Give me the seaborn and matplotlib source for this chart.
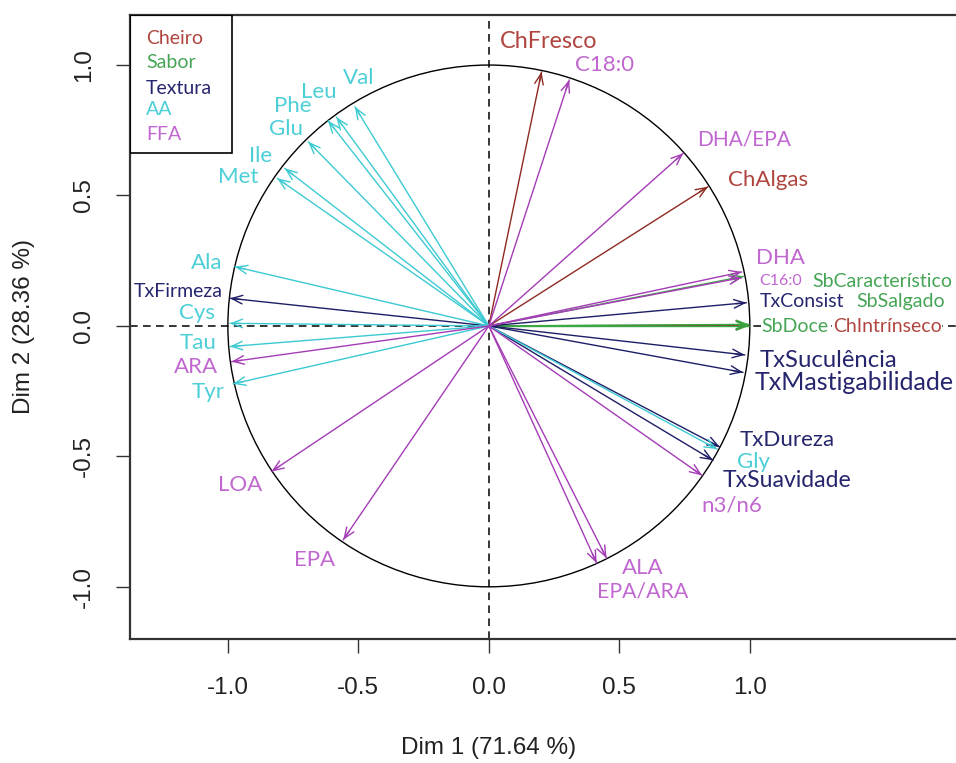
import numpy as np
import pandas as pd
import matplotlib
matplotlib.use("Agg")
import matplotlib.pyplot as plt
import seaborn as sns
from matplotlib.patches import Circle, Rectangle

# ---------------- data ----------------
variables = ["ChFresco", "ChAlgas", "ChIntrínseco",
             "SbCaracterístico", "SbSalgado", "SbDoce",
             "TxFirmeza", "TxConsist", "TxSuculência", "TxMastigabilidade", "TxDureza", "TxSuavidade",
             "Val", "Leu", "Phe", "Glu", "Ile", "Met", "Ala", "Cys", "Tau", "Tyr", "Gly",
             "C18:0", "DHA/EPA", "DHA", "C16:0", "n3/n6", "ALA", "EPA/ARA", "EPA", "LOA", "ARA"]
groups = ["Cheiro"] * 3 + ["Sabor"] * 3 + ["Textura"] * 6 + ["AA"] * 11 + ["FFA"] * 10
dim1 = [0.202, 0.840, 0.995,
        0.975, 0.996, 0.997,
        -0.992, 0.987, 0.981, 0.974, 0.885, 0.859,
        -0.513, -0.584, -0.616, -0.692, -0.782, -0.811, -0.973, -0.992, -0.992, -0.980, 0.874,
        0.308, 0.745, 0.969, 0.969, 0.817, 0.413, 0.451, -0.558, -0.833, -0.986]
dim2 = [0.974, 0.534, 0.003,
        0.190, 0.006, 0.000,
        0.106, 0.089, -0.111, -0.178, -0.464, -0.515,
        0.840, 0.800, 0.787, 0.706, 0.604, 0.566, 0.227, 0.010, -0.079, -0.222, -0.472,
        0.943, 0.662, 0.207, 0.185, -0.573, -0.909, -0.890, -0.820, -0.558, -0.137]

group_names = ["Cheiro", "Sabor", "Textura", "AA", "FFA"]
xlab = "Dim 1 (71.64 %)"
ylab = "Dim 2 (28.36 %)"
xticks = [-1.0, -0.5, 0.0, 0.5, 1.0]
yticks = [-1.0, -0.5, 0.0, 0.5, 1.0]

# ---------------- styles / layout ----------------
arrow_colors = {"Cheiro": "#8e2a22", "Sabor": "#3aa843", "Textura": "#1e1e66",
                "AA": "#3ccad2", "FFA": "#a43cb6"}
text_colors = {"Cheiro": "#b0453f", "Sabor": "#45a555", "Textura": "#26266e",
               "AA": "#4ccfd6", "FFA": "#c067d0"}

L, M, S = 16, 14, 11.5
# label layout: x, y, ha, size, white background
label_layout = {
    "ChFresco": (0.042, 1.089, "left", 16.8, False),
    "ChAlgas": (0.916, 0.560, "left", L, False),
    "ChIntrínseco": (1.318, -0.003, "left", M, True),
    "SbCaracterístico": (1.241, 0.172, "left", M, False),
    "SbSalgado": (1.410, 0.093, "left", M, False),
    "SbDoce": (1.046, -0.003, "left", M, True),
    "TxFirmeza": (-1.019, 0.131, "right", M, False),
    "TxConsist": (1.038, 0.093, "left", M, False),
    "TxSuculência": (1.038, -0.133, "left", 17.2, False),
    "TxMastigabilidade": (1.019, -0.215, "left", 18, False),
    "TxDureza": (0.962, -0.437, "left", L, False),
    "TxSuavidade": (0.897, -0.593, "left", 16.6, False),
    "Val": (-0.440, 0.950, "right", L, False),
    "Leu": (-0.582, 0.897, "right", L, False),
    "Phe": (-0.678, 0.843, "right", L, False),
    "Glu": (-0.713, 0.755, "right", L, False),
    "Ile": (-0.831, 0.651, "right", L, False),
    "Met": (-0.885, 0.571, "right", L, False),
    "Ala": (-1.019, 0.241, "right", L, False),
    "Cys": (-1.050, 0.050, "right", L, False),
    "Tau": (-1.042, -0.065, "right", L, False),
    "Tyr": (-1.011, -0.252, "right", L, False),
    "Gly": (0.950, -0.520, "left", L, False),
    "C18:0": (0.330, 1.000, "left", L, False),
    "DHA/EPA": (0.797, 0.713, "left", 15, False),
    "DHA": (1.023, 0.261, "left", L, False),
    "C16:0": (1.038, 0.172, "left", S, False),
    "n3/n6": (0.816, -0.690, "left", L, False),
    "ALA": (0.510, -0.927, "left", L, False),
    "EPA/ARA": (0.414, -1.018, "left", 15.3, False),
    "EPA": (-0.590, -0.897, "right", L, False),
    "LOA": (-0.870, -0.609, "right", L, False),
    "ARA": (-1.038, -0.156, "right", L, False),
}

sns.set_theme(style="white")
label_font = ["Lato", "DejaVu Sans"]
axis_font = ["Liberation Sans", "DejaVu Sans"]
plt.rcParams["font.family"] = axis_font

fig = plt.figure(figsize=(9.56, 7.63), dpi=100)
ax = fig.add_axes([130 / 956, 1 - 639 / 763, 1 - 130 / 956, (639 - 14.7) / 763])
ax.set_xlim(-1.375, 1.790)
ax.set_ylim(-1.200, 1.193)

# arrow shafts through seaborn (one segment per variable from the origin)
seg = pd.DataFrame({
    "var": np.repeat(variables, 2),
    "group": np.repeat(groups, 2),
    "x": np.ravel([[0.0, v] for v in dim1]),
    "y": np.ravel([[0.0, v] for v in dim2]),
})
sns.lineplot(data=seg, x="x", y="y", units="var", hue="group", estimator=None,
             sort=False, palette=arrow_colors, hue_order=group_names,
             linewidth=1.0, legend=False, ax=ax)

# arrow heads
for v, g, x, y in zip(variables, groups, dim1, dim2):
    ax.annotate("", xy=(x, y), xytext=(0.96 * x, 0.96 * y),
                arrowprops=dict(arrowstyle="->,head_length=0.55,head_width=0.22",
                                color=arrow_colors[g], lw=1.0, shrinkA=0, shrinkB=0,
                                mutation_scale=14))

# variable labels
for v, g in zip(variables, groups):
    lx, ly, ha, fs, bg = label_layout[v]
    kw = {}
    if bg:
        kw["bbox"] = dict(facecolor="white", edgecolor="none", pad=0.5)
    ax.text(lx, ly, v, color=text_colors[g], ha=ha, va="center", fontsize=fs,
            family=label_font, zorder=4, **kw)

# unit circle and reference lines
ax.add_patch(Circle((0, 0), 1.0, fill=False, color="black", lw=1.0))
ax.axhline(0, color="black", lw=1.1, ls=(0, (5, 3.5)), zorder=0.5)
ax.axvline(0, color="black", lw=1.1, ls=(0, (5, 3.5)), zorder=0.5)

# legend box
ax.add_patch(Rectangle((-1.375, 0.663), 0.390, 0.530, fill=False, edgecolor="black",
                       lw=1.2, zorder=3))
leg_y = [1.103, 1.011, 0.912, 0.828, 0.732]
for gname, yy in zip(group_names, leg_y):
    ax.text(-1.314, yy, gname, color=text_colors[gname], ha="left", va="center",
            fontsize=M, family=label_font)

# axes styling
for side in ["left", "bottom", "top"]:
    ax.spines[side].set_visible(True)
    ax.spines[side].set_color("#333333")
    ax.spines[side].set_linewidth(1.6)
ax.spines["right"].set_visible(False)
ax.set_xticks(xticks)
ax.set_yticks(yticks)
ax.set_xticklabels([f"{t:.1f}" for t in xticks])
ax.set_yticklabels([f"{t:.1f}" for t in yticks], rotation=90, va="center")
ax.tick_params(axis="both", which="major", direction="out", length=10, width=1.0,
               color="#333333", labelsize=17.5, labelcolor="#222222", bottom=True, left=True)
ax.tick_params(axis="x", pad=17)
ax.tick_params(axis="y", pad=15)
ax.set_xlabel(xlab, fontsize=17.5, color="#222222")
ax.set_ylabel(ylab, fontsize=17.5, color="#222222")
ax.xaxis.set_label_coords((489 - 130) / 826, (639 - 737) / 624.3)
ax.yaxis.set_label_coords((35 - 130) / 826, 0.5)
ax.grid(False)

fig.savefig("out.png", dpi=100)
